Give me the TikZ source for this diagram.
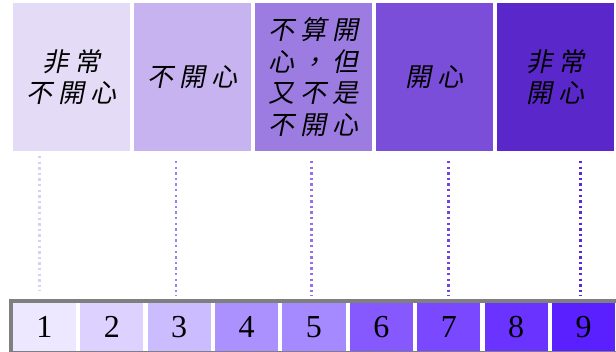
\documentclass[tikz,border=0pt]{standalone}
\usepackage{fontspec}
\setmainfont{Liberation Serif}
\newfontfamily\cjk[FakeSlant=0.2,LetterSpace=22]{Noto Sans CJK TC}

% colours of the five answers and of the nine steps
\definecolor{moodA}{HTML}{E4DCF6}
\definecolor{moodB}{HTML}{C7B3EF}
\definecolor{moodC}{HTML}{9D7CE2}
\definecolor{moodD}{HTML}{7A4ED8}
\definecolor{moodE}{HTML}{5A27CA}
\definecolor{stepA}{HTML}{EDE7FF}
\definecolor{stepB}{HTML}{DCD1FF}
\definecolor{stepC}{HTML}{CBBBFF}
\definecolor{stepD}{HTML}{AA91FE}
\definecolor{stepE}{HTML}{A589FF}
\definecolor{stepF}{HTML}{8659FF}
\definecolor{stepG}{HTML}{7A48FF}
\definecolor{stepH}{HTML}{6A33FF}
\definecolor{stepI}{HTML}{5A20FF}
\definecolor{guideA}{HTML}{D8CFF2}
\definecolor{guideB}{HTML}{A07EF0}
\definecolor{guideC}{HTML}{9670E6}
\definecolor{guideD}{HTML}{7442E2}
\definecolor{guideE}{HTML}{5A2AD4}
\definecolor{framegray}{HTML}{7F7F7F}

\tikzset{
  mood/.style={minimum width=117.3pt, minimum height=148pt, inner sep=0pt,
    align=center, text=black, font=\cjk\fontsize{26}{31.7}\selectfont},
  stepbox/.style={minimum width=63.3pt, minimum height=48pt, inner sep=0pt,
    font=\fontsize{32}{38}\selectfont},
  guide/.style={line width=2.4pt, dash pattern=on 2.4pt off 3.2pt},
}

\begin{document}
\begin{tikzpicture}[x=1pt,y=-1pt]
        \useasboundingbox (0,0) rectangle (616,352);
        % the five answers
        \node[mood, fill=moodA] (m1) at (71.35,77) {非常\\不開心};
        \node[mood, fill=moodB] (m2) at (192.35,77) {不開心};
        \node[mood, fill=moodC] (m3) at (313.35,77) {不算開\\心，但\\又不是\\不開心};
        \node[mood, fill=moodD] (m4) at (434.35,77) {開心};
        \node[mood, fill=moodE] (m5) at (555.35,77) {非常\\開心};

        % the scale below
        \fill[framegray] (9,299) rectangle (616,352);
        \fill[white] (12.7,302.7) rectangle (616,350.7);
        \node[stepbox, fill=stepA] (c1) at (44.35,326.7) {1};
        \node[stepbox, fill=stepB] (c2) at (111.75,326.7) {2};
        \node[stepbox, fill=stepC] (c3) at (179.15,326.7) {3};
        \node[stepbox, fill=stepD] (c4) at (246.55,326.7) {4};
        \node[stepbox, fill=stepE] (c5) at (313.95,326.7) {5};
        \node[stepbox, fill=stepF] (c6) at (381.35,326.7) {6};
        \node[stepbox, fill=stepG] (c7) at (448.75,326.7) {7};
        \node[stepbox, fill=stepH] (c8) at (516.15,326.7) {8};
        \node[stepbox, fill=stepI] (c9) at (583.55,326.7) {9};

        \coordinate (g1) at (39.3,156);
        \coordinate (g3) at (176,161);
        \coordinate (g5) at (311.6,161);
        \coordinate (g7) at (448.3,161);
        \coordinate (g9) at (580.4,161);
        \draw[guide, color=guideA, shorten >=11.7pt] (g1) -- (g1 |- c1.north);
        \draw[guide, color=guideB, shorten >=6.7pt] (g3) -- (g3 |- c3.north);
        \draw[guide, color=guideC, shorten >=6.7pt] (g5) -- (g5 |- c5.north);
        \draw[guide, color=guideD, shorten >=6.7pt] (g7) -- (g7 |- c7.north);
        \draw[guide, color=guideE, shorten >=6.7pt] (g9) -- (g9 |- c9.north);
\end{tikzpicture}
\end{document}
